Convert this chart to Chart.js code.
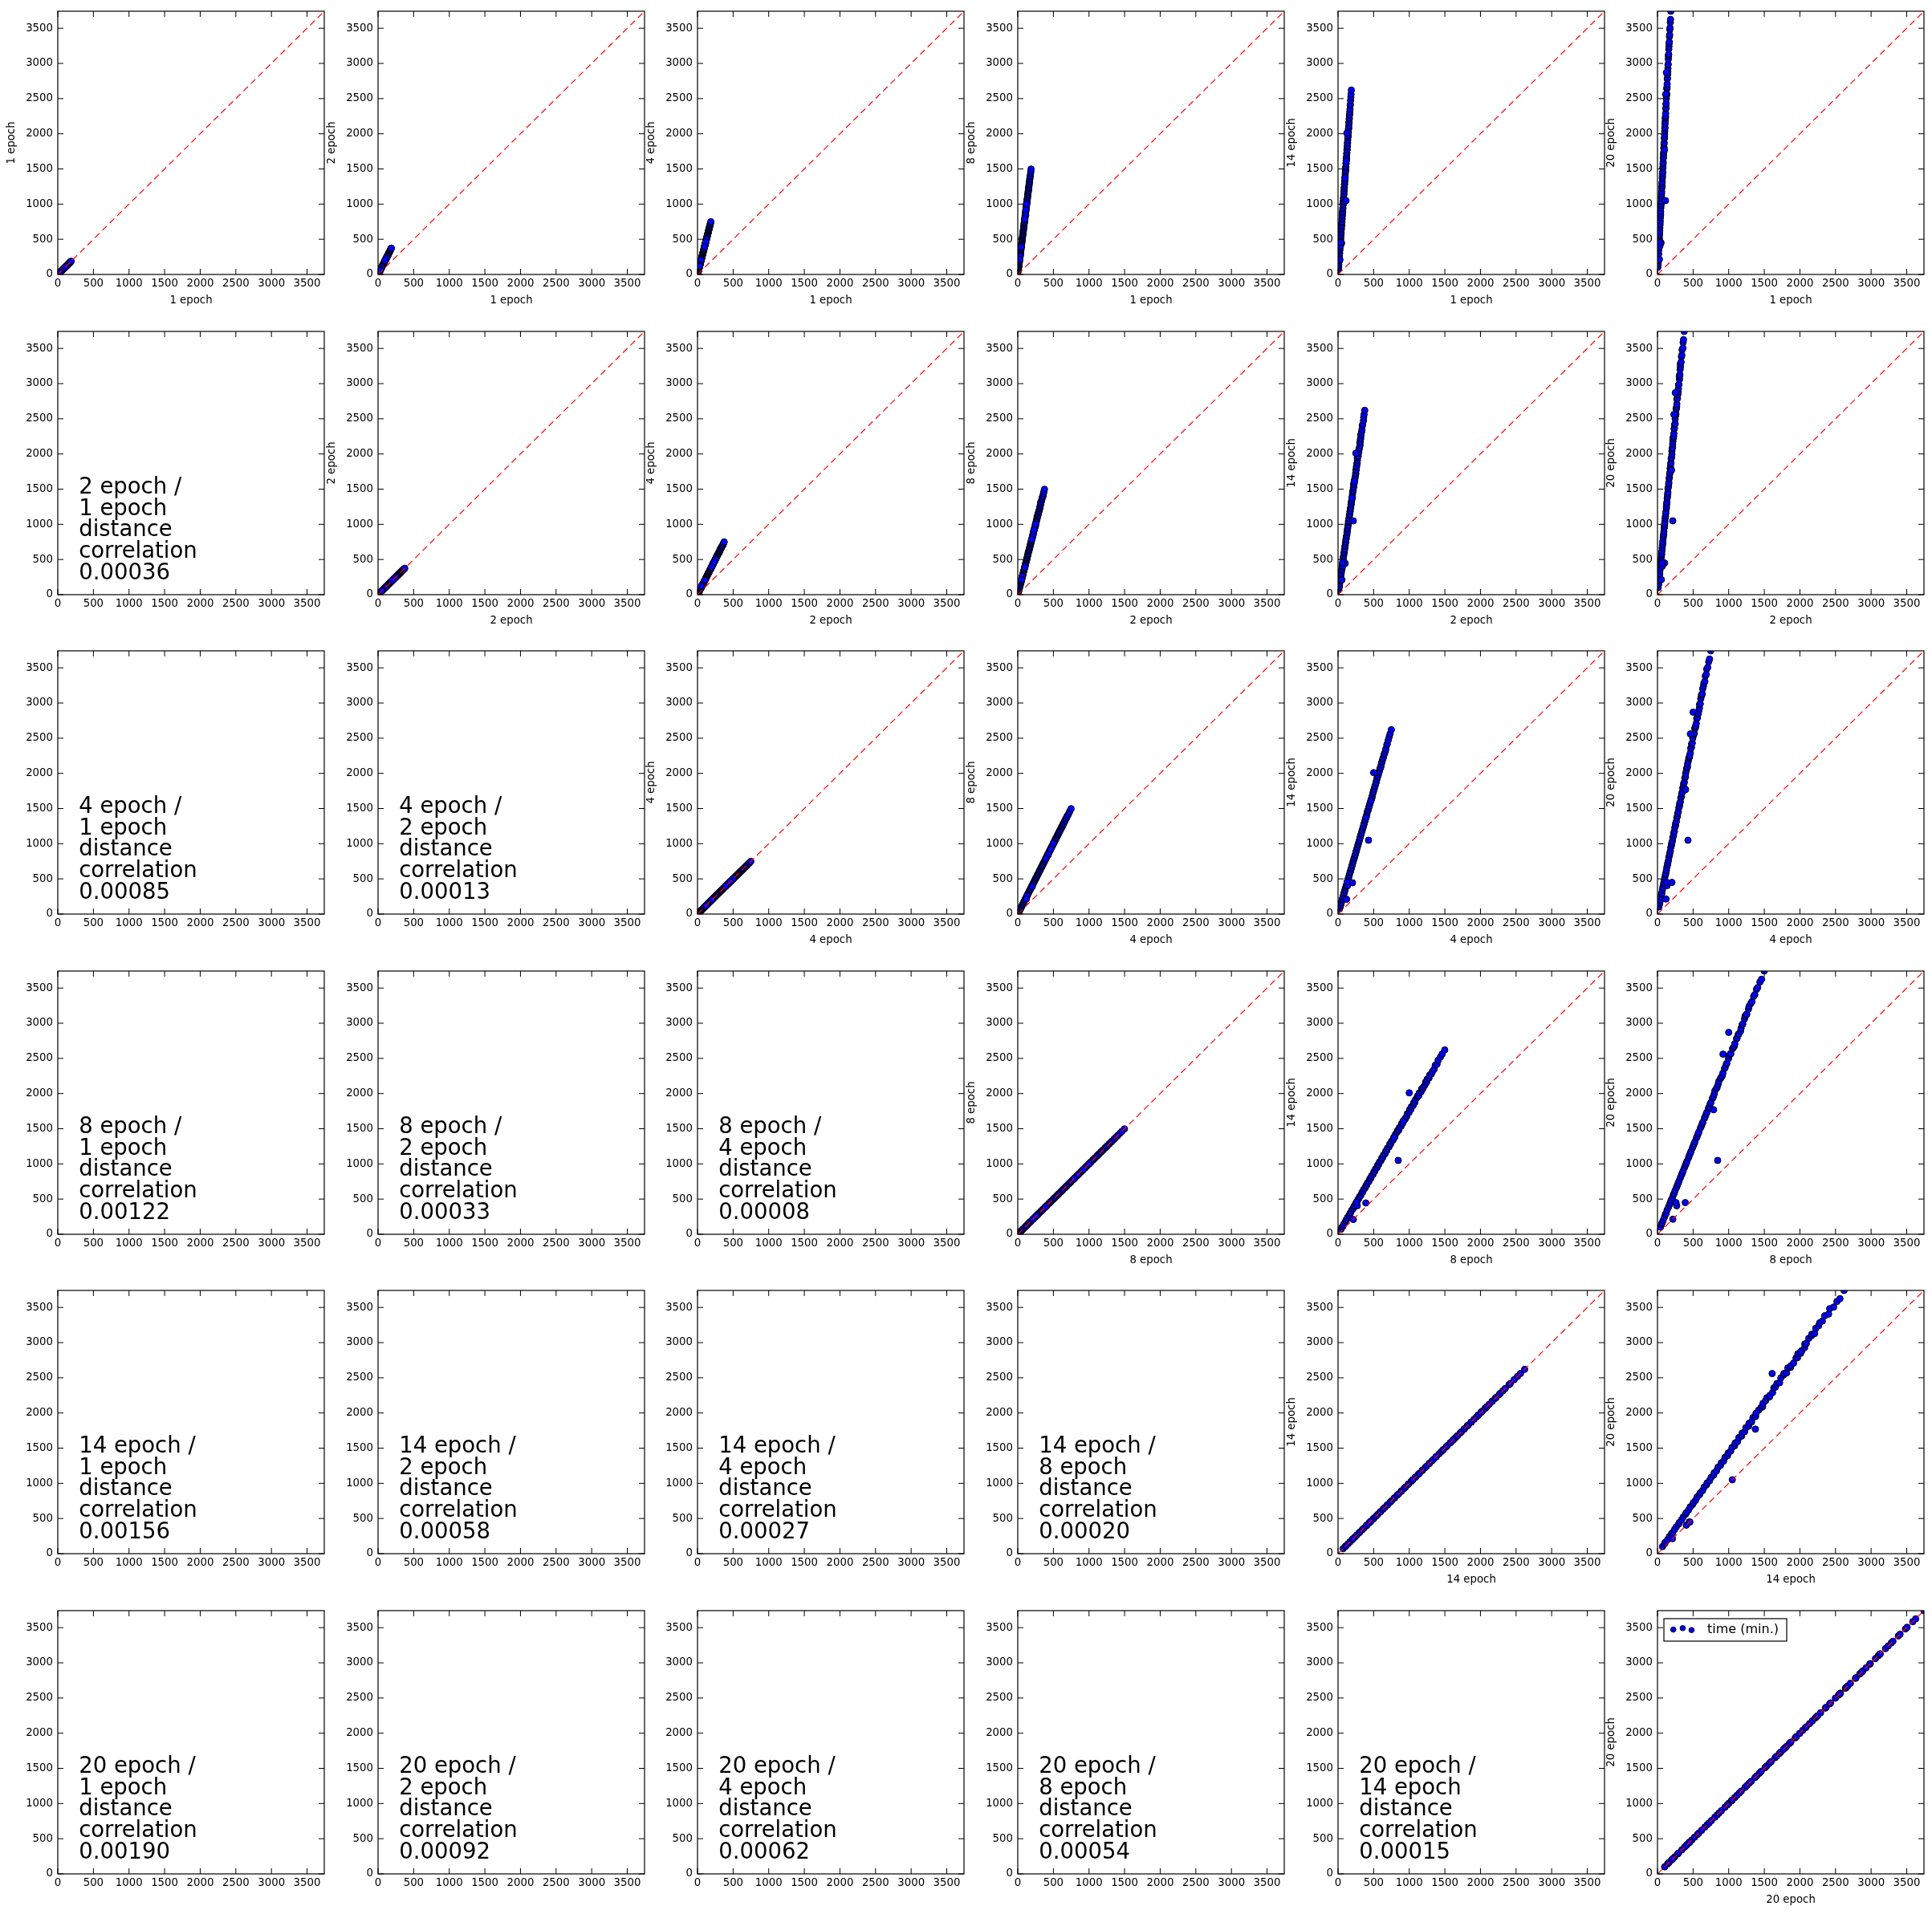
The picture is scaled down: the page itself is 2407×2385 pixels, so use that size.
<!DOCTYPE html>
<html><head><meta charset="utf-8">
<script src="https://cdn.jsdelivr.net/npm/chart.js@4.4.0/dist/chart.umd.min.js"></script>
<style>
html,body{margin:0;padding:0;background:#fff;}
#grid{position:relative;width:2407px;height:2385px;background:#fff;overflow:hidden;}
#grid canvas{position:absolute;}
</style></head><body><div id="grid"></div>
<script>
// ---------------- data ----------------
const epochNames = ['1 epoch', '2 epoch', '4 epoch', '8 epoch', '14 epoch', '20 epoch'];
const epochCounts = [1, 2, 4, 8, 14, 20];
const legendLabel = 'time (min.)';
const tickValues = [0, 500, 1000, 1500, 2000, 2500, 3000, 3500];
const axisMax = 3742;

// training time (min.) of each run, per epoch count (same run order in every array)
const time1 = [5,7,8,10,12,14,15,17,19,21, 22,24,26,28,29,31,33,35,36,38, 40,42,43,45,47,49,50,52,54,56,
  57,59,61,63,64,66,68,70,71,73, 75,77,78,80,82,84,85,87,89,91, 92,94,96,98,99,101,103,105,106,108,
  110,112,113,115,117,119,120,122,124,126, 127,129,131,133,134,136,138,140,141,143, 145,147,148,150,152,154,155,157,159,161,
  163,166,168,171,173,176,180,183,187,
  112,125,115,98,50,34,33,27];
const time2 = [10,14,17,20,24,28,31,34,38,42, 45,50,52,57,58,62,66,70,73,74, 80,84,87,90,94,98,101,104,108,112,
  115,118,125,126,129,132,136,140,143,146, 147,154,157,160,164,168,171,174,178,182, 185,188,192,196,203,202,206,210,213,216,
  220,219,227,230,234,238,241,249,248,252, 255,258,262,266,269,272,271,280,283,286, 290,294,297,300,309,308,311,314,318,322,
  321,332,336,342,346,357,360,366,375,
  214,250,231,197,100,68,65,54];
const time4 = [20,29,32,41,48,57,60,69,75,85, 88,97,103,112,117,125,131,141,144,153, 159,169,172,181,187,197,199,209,215,225,
  227,237,243,253,255,265,271,281,283,293, 299,309,311,321,327,337,339,349,355,365, 367,377,383,393,395,405,411,421,423,433,
  439,449,451,461,467,477,479,489,495,505, 507,517,523,533,535,545,551,561,563,573, 579,589,591,601,607,617,619,629,635,645,
  651,665,671,685,691,705,719,731,749,
  428,500,462,395,203,135,130,120];
const time8 = [41,56,65,79,97,111,121,135,153,167, 177,191,210,223,234,247,266,279,290,303, 322,335,346,358,378,391,402,414,435,446,
  459,470,491,502,515,526,547,558,571,582, 603,614,627,638,660,670,684,694,716,726, 740,750,772,782,797,806,829,838,853,862,
  885,894,909,918,941,950,966,974,997,1006, 1022,1030,1054,1062,1078,1086,1110,1118,1134,1142, 1166,1174,1190,1198,1222,1230,1246,1254,1278,1286,
  1310,1326,1350,1366,1390,1406,1438,1462,1498,
  845,1000,920,788,390,270,260,215];
const time14 = [71,99,111,141,167,197,212,240,264,296, 307,339,362,394,404,436,460,492,505,534, 557,590,600,633,655,688,698,731,753,787,
  796,829,850,885,894,928,948,984,992,1027, 1046,1083,1090,1125,1144,1181,1188,1223,1242,1280, 1285,1321,1340,1378,1383,1420,1452,1476,1481,1518,
  1536,1574,1579,1616,1634,1655,1677,1715,1732,1771, 1775,1813,1830,1869,1873,1911,1945,1967,1971,2010, 2026,2066,2069,2090,2124,2164,2167,2206,2222,2263,
  2278,2315,2348,2403,2418,2474,2520,2562,2620,
  1050,2010,1610,1375,445,405,455,210];
const time20 = [101,141,162,198,242,283,298,343,381,418, 442,483,521,562,581,620,664,698,725,758, 805,838,864,897,946,979,1006,1037,1085,1116,
  1148,1177,1228,1255,1289,1316,1369,1394,1430,1456, 1510,1533,1571,1595,1651,1672,1712,1734,1792,1811, 1853,1873,1934,1950,1995,2040,2075,2090,2136,2175,
  2216,2230,2250,2290,2357,2369,2418,2430,2498,2540, 2560,2569,2639,2649,2672,2709,2780,2788,2841,2848, 2885,2928,2981,2988,3061,3100,3121,3128,3202,3240,
  3282,3306,3382,3406,3482,3506,3585,3625,3742,
  1050,2870,2560,1770,450,405,450,214];

// lower-triangle distance correlations: correlations[row][col]
const correlations = [
  [],
  [0.00036],
  [0.00085, 0.00013],
  [0.00122, 0.00033, 0.00008],
  [0.00156, 0.00058, 0.00027, 0.00020],
  [0.00190, 0.00092, 0.00062, 0.00054, 0.00015]
];

const series = [time1, time2, time4, time8, time14, time20];

// ---------------- layout ----------------
const colLeft = [72, 471, 869, 1268, 1667, 2065];
const rowTop = [10, 409, 807, 1206, 1604, 2003];
const PAD_L = 72, PAD_T = 10, CANVAS_W = 414, CANVAS_H = 392;
const FONT = "'DejaVu Sans', sans-serif";

Chart.defaults.font.family = FONT;
Chart.defaults.color = '#000';

const framePlugin = {
  id: 'frameTicks',
  afterDraw(chart) {
    const {ctx, chartArea: a, scales: {x, y}} = chart;
    ctx.save();
    ctx.strokeStyle = '#000';
    ctx.lineWidth = 1;
    ctx.beginPath();
    const TL = 7;
    tickValues.forEach(v => {
      const px = x.getPixelForValue(v);
      ctx.moveTo(px, a.bottom); ctx.lineTo(px, a.bottom - TL);
      ctx.moveTo(px, a.top); ctx.lineTo(px, a.top + TL);
      const py = y.getPixelForValue(v);
      ctx.moveTo(a.left, py); ctx.lineTo(a.left + TL, py);
      ctx.moveTo(a.right, py); ctx.lineTo(a.right - TL, py);
    });
    ctx.stroke();
    ctx.lineWidth = 1.2;
    ctx.strokeRect(a.left, a.top, a.right - a.left, a.bottom - a.top);
    ctx.restore();
  }
};

function textPlugin(lines) {
  return {
    id: 'panelText',
    afterDraw(chart) {
      const {ctx, scales: {x, y}} = chart;
      ctx.save();
      ctx.fillStyle = '#000';
      ctx.font = '27.5px ' + FONT;
      ctx.textAlign = 'left';
      ctx.textBaseline = 'alphabetic';
      const left = x.getPixelForValue(295);
      const lastBase = y.getPixelForValue(220);
      const LS = 26.7;
      lines.forEach((t, i) => {
        ctx.fillText(t, left, lastBase - (lines.length - 1 - i) * LS);
      });
      ctx.restore();
    }
  };
}

const legendPlugin = {
  id: 'innerLegend',
  afterDraw(chart) {
    const {ctx, chartArea: a} = chart;
    const bx = a.left + 8, by = a.top + 10, bw = 153, bh = 28;
    ctx.save();
    ctx.fillStyle = '#fff';
    ctx.fillRect(bx, by, bw, bh);
    ctx.strokeStyle = '#000';
    ctx.lineWidth = 1.2;
    ctx.strokeRect(bx, by, bw, bh);
    const marks = [[11.7, 13.6], [23.4, 11.8], [34.4, 14.2]];
    marks.forEach(([mx, my]) => {
      ctx.beginPath();
      ctx.arc(bx + mx, by + my, 3.3, 0, Math.PI * 2);
      ctx.fillStyle = '#0000ff';
      ctx.fill();
      ctx.lineWidth = 1;
      ctx.strokeStyle = '#000';
      ctx.stroke();
    });
    ctx.fillStyle = '#000';
    ctx.font = '16px ' + FONT;
    ctx.textAlign = 'left';
    ctx.textBaseline = 'middle';
    ctx.fillText(chart.data.datasets[1].label, bx + 54, by + bh / 2);
    ctx.restore();
  }
};

const grid = document.getElementById('grid');

for (let r = 0; r < 6; r++) {
  for (let c = 0; c < 6; c++) {
    const cv = document.createElement('canvas');
    cv.width = CANVAS_W; cv.height = CANVAS_H;
    cv.style.left = (colLeft[c] - PAD_L) + 'px';
    cv.style.top = (rowTop[r] - PAD_T) + 'px';
    cv.style.width = CANVAS_W + 'px';
    cv.style.height = CANVAS_H + 'px';
    grid.appendChild(cv);

    const upper = c >= r;
    const datasets = [];
    const plugins = [framePlugin];
    if (upper) {
      datasets.push({
        type: 'line',
        label: 'x = y',
        data: [{x: 0, y: 0}, {x: axisMax, y: axisMax}],
        borderColor: '#ff0000',
        borderWidth: 1.2,
        borderDash: [8, 5],
        pointRadius: 0,
        fill: false,
        showLine: true,
        order: 0,
        clip: 0
      });
      datasets.push({
        type: 'scatter',
        label: legendLabel,
        data: series[r].map((v, i) => ({x: v, y: series[c][i]})),
        backgroundColor: '#0000ff',
        borderColor: '#000000',
        borderWidth: 1,
        pointRadius: 4,
        order: 1,
        clip: 0
      });
      if (r === 5 && c === 5) plugins.push(legendPlugin);
    } else {
      const a = epochCounts[r], b = epochCounts[c];
      plugins.push(textPlugin([
        a + ' epoch /',
        b + ' epoch',
        'distance',
        'correlation',
        correlations[r][c].toFixed(5)
      ]));
    }

    const scaleBase = (titleText, isX) => ({
      type: 'linear',
      position: isX ? 'bottom' : 'left',
      min: 0,
      max: axisMax,
      afterBuildTicks: s => { s.ticks = tickValues.map(v => ({value: v})); },
      ticks: {
        color: '#000',
        font: {size: 13.3, family: FONT},
        padding: isX ? 4 : 6,
        maxRotation: 0,
        minRotation: 0,
        autoSkip: false,
        includeBounds: false,
        callback: v => String(v)
      },
      grid: {display: false, drawTicks: false},
      border: {display: false},
      title: {
        display: upper,
        text: titleText,
        color: '#000',
        font: {size: 13.3, family: FONT},
        padding: isX ? {top: 0, bottom: 9} : {top: 7, bottom: 0}
      },
      afterFit: s => { if (isX) s.height = CANVAS_H - PAD_T - 332; else s.width = PAD_L; }
    });

    new Chart(cv, {
      type: 'scatter',
      data: {datasets},
      options: {
        responsive: false,
        maintainAspectRatio: false,
        devicePixelRatio: 1,
        animation: false,
        events: [],
        layout: {padding: {left: 0, top: PAD_T, right: CANVAS_W - PAD_L - 332, bottom: 0}},
        plugins: {legend: {display: false}, tooltip: {enabled: false}, title: {display: false}},
        scales: {
          x: scaleBase(epochNames[r], true),
          y: scaleBase(epochNames[c], false)
        }
      },
      plugins
    });
  }
}
</script>
</body></html>
